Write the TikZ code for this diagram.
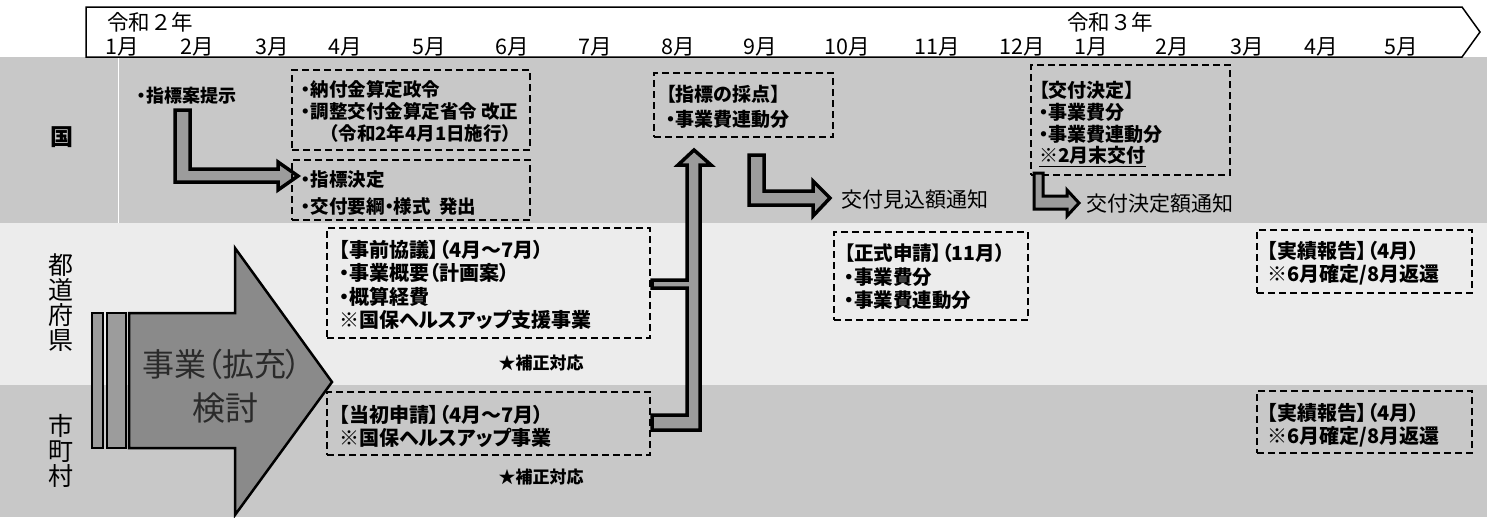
\documentclass[tikz,border=0pt]{standalone}
\usepackage{fontspec}
\setmainfont{Noto Sans CJK JP}
\newfontfamily\jp[RawFeature=+palt]{Noto Sans CJK JP}
\definecolor{rowdark}{HTML}{C8C8C8}
\definecolor{rowlight}{HTML}{ECECEC}
\definecolor{hatch}{HTML}{9C9C9C}
\definecolor{bigfill}{HTML}{8A8A8A}
\definecolor{bigtext}{HTML}{2A2A2A}
\begin{document}
\begin{tikzpicture}[x=1pt,y=-1pt,
  dbox/.style={draw=black, dash pattern=on 7pt off 4pt, line width=1.6pt, rectangle, inner sep=0pt},
  btext/.style={anchor=west, align=left, inner sep=0pt},
  hdr/.style={inner sep=0pt, font=\fontsize{21.5}{23}\selectfont},
  harrow/.style={draw=black, line width=3.5pt, fill=hatch, line join=miter},
  lbl/.style={inner sep=0pt, align=center},
]
\useasboundingbox (0,0) rectangle (1487,517);
% row backgrounds
\fill[rowdark] (0,57) rectangle (1487,223);
\fill[rowlight] (0,223) rectangle (1487,385);
\fill[rowdark] (0,385) rectangle (1487,517);
\draw[white, line width=1pt] (118,57) -- (118,223);
% header
\draw[line width=1.5pt, fill=white] (86,7) -- (1462,7) -- (1480,32) -- (1462,57) -- (86,57) -- cycle;
\node[hdr, anchor=west] (y2) at (107,22) {令和２年};
\node[hdr] (y3) at (1110,22) {令和３年};
\node[hdr] (m1) at (122,47) {1月};
\node[hdr] (m2) at (197,47) {2月};
\node[hdr] (m3) at (272,47) {3月};
\node[hdr] (m4) at (345,47) {4月};
\node[hdr] (m5) at (429,47) {5月};
\node[hdr] (m6) at (512,47) {6月};
\node[hdr] (m7) at (595,47) {7月};
\node[hdr] (m8) at (678,47) {8月};
\node[hdr] (m9) at (760,47) {9月};
\node[hdr] (m10) at (847,47) {10月};
\node[hdr] (m11) at (937,47) {11月};
\node[hdr] (m12) at (1022,47) {12月};
\node[hdr] (n1) at (1091,47) {1月};
\node[hdr] (n2) at (1172,47) {2月};
\node[hdr] (n3) at (1247,47) {3月};
\node[hdr] (n4) at (1321,47) {4月};
\node[hdr] (n5) at (1401,47) {5月};
% row labels
\node[lbl, font=\bfseries\fontsize{23}{24}\selectfont] (kuni) at (62,137) {国};
\node[lbl, font=\fontsize{25}{25}\selectfont] (pref) at (61,303) {都\\道\\府\\県};
\node[lbl, font=\fontsize{25}{25}\selectfont] (muni) at (61,451) {市\\町\\村};
% big arrow
\draw[black, line width=2.5pt, fill=hatch] (92,313) rectangle (103,448);
\draw[black, line width=2.5pt, fill=hatch] (107,313) rectangle (126,448);
\draw[black, line width=2.5pt, fill=bigfill, line join=miter] (129,313) -- (235,313) -- (235,248) -- (332,382) -- (235,515) -- (235,448) -- (129,448) -- cycle;
\node[lbl, text=bigtext, font=\jp\fontsize{32}{34}\selectfont] (big1) at (222,364) {事業（拡充）};
\node[lbl, text=bigtext, font=\jp\fontsize{33}{34}\selectfont] (big2) at (225,408) {検討};
% kuni row
\node[btext, font=\jp\bfseries\fontsize{18}{20}\selectfont] (teiji) at (137,96) {・指標案提示};
\draw[harrow] (175,110) -- (190,110) -- (190,169) -- (278,169) -- (278,162) -- (298,176) -- (278,190) -- (278,182) -- (175,182) -- cycle;
\node[dbox, minimum width=238pt, minimum height=80pt] (kb1) at (411,110) {};
\node[btext, font=\jp\bfseries\fontsize{18.5}{22}\selectfont] (kb1t) at ([xshift=10pt, yshift=-1pt]kb1.west) {・納付金算定政令\\・調整交付金算定省令 改正\\\hspace*{28pt}（令和2年4月1日施行）};
\node[dbox, minimum width=238pt, minimum height=60pt] (kb2) at (411,190) {};
\node[btext, font=\jp\bfseries\fontsize{18.5}{27}\selectfont] (kb2t) at ([xshift=10pt, yshift=-3pt]kb2.west) {・指標決定\\・交付要綱・様式\ \ 発出};
\node[dbox, minimum width=179pt, minimum height=64pt] (saiten) at (743.5,105) {};
\node[btext, font=\jp\bfseries\fontsize{19}{25}\selectfont] (saitent) at ([xshift=13pt, yshift=-2pt]saiten.west) {【指標の採点】\\・事業費連動分};
\node[dbox, minimum width=199pt, minimum height=110pt] (kofu) at (1130.5,120) {};
\node[btext, font=\jp\bfseries\fontsize{19}{21.7}\selectfont] (kofut) at ([xshift=9pt, yshift=-4pt]kofu.west) {【交付決定】\\・事業費分\\・事業費連動分\\\underline{※2月末交付}};
% vertical up arrow with branches
\draw[harrow] (687,165) -- (678,165) -- (694,150) -- (711,165) -- (700,165) -- (700,430) -- (652,430) -- (652,415) -- (687,415) -- (687,288) -- (652,288) -- (652,280) -- (687,280) -- cycle;
% L arrow 9月
\draw[harrow] (749,155) -- (764,155) -- (764,191) -- (813,191) -- (813,181) -- (830,198) -- (813,216) -- (813,205) -- (749,205) -- cycle;
\node[btext, font=\jp\fontsize{21}{22}\selectfont] (mikomi) at (841,200) {交付見込額通知};
% L arrow 12月
\draw[harrow, line width=3pt] (1034,173) -- (1043,173) -- (1043,196) -- (1067,196) -- (1067,190) -- (1079,203) -- (1067,216) -- (1067,209) -- (1034,209) -- cycle;
\node[btext, font=\jp\fontsize{21}{22}\selectfont] (ketteigaku) at (1086,204) {交付決定額通知};
% prefecture row
\node[dbox, minimum width=323pt, minimum height=110pt] (jizen) at (488.5,283) {};
\node[btext, font=\jp\bfseries\fontsize{20}{23.5}\selectfont] (jizent) at ([xshift=13pt, yshift=-2pt]jizen.west) {【事前協議】（4月～7月）\\・事業概要（計画案）\\・概算経費\\※国保ヘルスアップ支援事業};
\node[lbl, font=\jp\bfseries\fontsize{17}{18}\selectfont] (hosei1) at (541,363) {★補正対応};
\node[dbox, minimum width=194pt, minimum height=88pt] (seishiki) at (931,276) {};
\node[btext, font=\jp\bfseries\fontsize{19.5}{23.5}\selectfont] (seishikit) at ([xshift=11pt, yshift=-1pt]seishiki.west) {【正式申請】（11月）\\・事業費分\\・事業費連動分};
\node[dbox, minimum width=215pt, minimum height=63pt] (jisseki1) at (1364.5,261.5) {};
\node[btext, font=\jp\bfseries\fontsize{20}{23}\selectfont] (jisseki1t) at ([xshift=11pt, yshift=-2pt]jisseki1.west) {【実績報告】（4月）\\※6月確定/8月返還};
% municipality row
\node[dbox, minimum width=323pt, minimum height=63pt] (tosho) at (488.5,423.5) {};
\node[btext, font=\jp\bfseries\fontsize{20}{23}\selectfont] (toshot) at ([xshift=13pt, yshift=-3pt]tosho.west) {【当初申請】（4月～7月）\\※国保ヘルスアップ事業};
\node[lbl, font=\jp\bfseries\fontsize{17}{18}\selectfont] (hosei2) at (541,477) {★補正対応};
\node[dbox, minimum width=215pt, minimum height=62pt] (jisseki2) at (1364.5,422) {};
\node[btext, font=\jp\bfseries\fontsize{20}{23}\selectfont] (jisseki2t) at ([xshift=11pt, yshift=-3pt]jisseki2.west) {【実績報告】（4月）\\※6月確定/8月返還};
\end{tikzpicture}
\end{document}
